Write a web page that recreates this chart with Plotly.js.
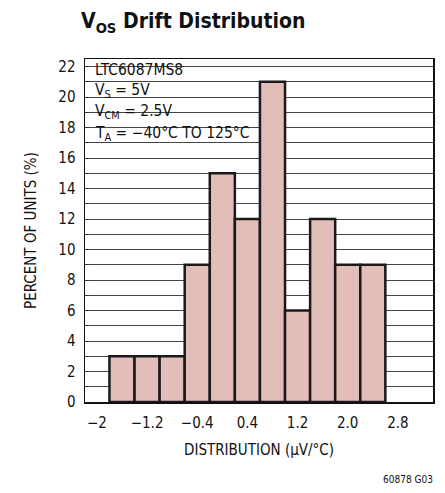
<!DOCTYPE html>
<html>
<head>
<meta charset="utf-8">
<script src="https://cdn.plot.ly/plotly-3.0.1.min.js"></script>
<style>html,body{margin:0;padding:0;background:#fff;}#chart{width:445px;height:493px;}</style>
</head>
<body>
<div id="chart"></div>
<script>
// Data
const binCenters = [-1.6, -1.2, -0.8, -0.4, 0.0, 0.4, 0.8, 1.2, 1.6, 2.0, 2.4];
const percentOfUnits = [3, 3, 3, 9, 15, 12, 21, 6, 12, 9, 9];
const xTickVals = [-2, -1.2, -0.4, 0.4, 1.2, 2.0, 2.8];
const xTickText = ["\u22122", "\u22121.2", "\u22120.4", "0.4", "1.2", "2.0", "2.8"];
const infoLines = ["LTC6087MS8", "V<sub>S</sub> = 5V", "V<sub>CM</sub> = 2.5V", "T<sub>A</sub> = \u221240\u00B0C TO 125\u00B0C"];
const infoY = [21.8, 20.4, 19.0, 17.6];

const FONT = "'DejaVu Sans Condensed', 'Liberation Sans Narrow', 'Arial Narrow', sans-serif";

const trace = {
  type: 'bar',
  x: binCenters,
  y: percentOfUnits,
  width: 0.4,
  marker: { color: '#e3bdb8', line: { color: '#1a1a1a', width: 2.5 } },
  hoverinfo: 'none'
};

const annotations = infoLines.map((t, i) => ({
  text: t, xref: 'paper', x: 0, xshift: 8, xanchor: 'left',
  yref: 'y', y: infoY[i], yanchor: 'middle', showarrow: false,
  font: { family: FONT, size: 15.5, color: '#111' }, align: 'left'
}));
annotations.push({
  text: '60878 G03', xref: 'paper', yref: 'paper', x: 1, xshift: 2, y: -0.225,
  xanchor: 'right', yanchor: 'middle', showarrow: false,
  font: { family: FONT, size: 10, color: '#111' }
});

const layout = {
  width: 445, height: 493,
  margin: { l: 85, r: 12, t: 59, b: 91 },
  paper_bgcolor: '#fff', plot_bgcolor: '#fff',
  showlegend: false,
  font: { family: FONT, size: 15, color: '#111' },
  title: {
    text: '<b>V<sub>OS</sub> Drift Distribution</b>',
    font: { family: FONT, size: 21, color: '#111' },
    xref: 'container', x: 81/445, xanchor: 'left',
    yref: 'container', y: 1 - 21/493, yanchor: 'middle'
  },
  xaxis: {
    range: [-2.19, 3.36],
    tickvals: xTickVals, ticktext: xTickText,
    ticks: '', showgrid: false, zeroline: false,
    showline: true, mirror: true, linecolor: '#111', linewidth: 1.5,
    ticklabelstandoff: 6,
    tickfont: { family: FONT, size: 15, color: '#111' },
    title: { text: 'DISTRIBUTION (\u00B5V/\u00B0C)', font: { family: FONT, size: 15, color: '#111' }, standoff: 14 }
  },
  yaxis: {
    range: [0, 22.5],
    tick0: 0, dtick: 2,
    ticks: 'inside', ticklen: 4, tickcolor: '#333', tickwidth: 1,
    showgrid: true, gridcolor: '#444', gridwidth: 1,
    minor: { dtick: 1, ticks: 'inside', ticklen: 4, tickcolor: '#333', showgrid: true, gridcolor: '#444', gridwidth: 1 },
    zeroline: false,
    showline: true, mirror: true, linecolor: '#111', linewidth: 1.5,
    ticklabelstandoff: 5,
    tickfont: { family: FONT, size: 15, color: '#111' },
    title: { text: 'PERCENT OF UNITS (%)', font: { family: FONT, size: 15, color: '#111' }, standoff: 18 }
  },
  shapes: [{
    type: 'rect', layer: 'below', xref: 'paper', x0: 0, x1: 0.53,
    yref: 'y', y0: 16.5, y1: 22.5, fillcolor: '#fff', line: { width: 0 }
  }],
  annotations: annotations
};

Plotly.newPlot('chart', [trace], layout, { displayModeBar: false, staticPlot: true });
</script>
</body>
</html>
